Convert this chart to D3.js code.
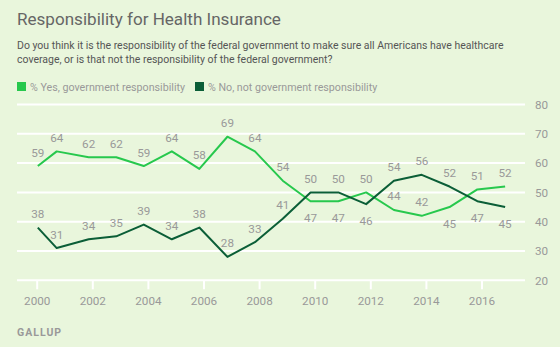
<!DOCTYPE html>
<html>
<head>
<meta charset="utf-8">
<script src="https://cdn.jsdelivr.net/npm/d3@7"></script>
<style>
  html, body { margin: 0; padding: 0; background: #e9f6dc; }
  svg { display: block; }
  text { font-family: Roboto, "Noto Sans", sans-serif; }
</style>
</head>
<body>
<svg id="chart" width="560" height="347"></svg>
<script>
// Survey dates (decimal years) and shares of respondents
const surveyDates = [2000.04, 2000.72, 2001.87, 2002.86, 2003.85, 2004.86, 2005.85, 2006.86, 2007.85,
                     2008.85, 2009.85, 2010.85, 2011.85, 2012.85, 2013.85, 2014.85, 2015.85, 2016.85];
const yesValues = [59, 64, 62, 62, 59, 64, 58, 69, 64, 54, 47, 47, 50, 44, 42, 45, 51, 52];
const noValues  = [38, 31, 34, 35, 39, 34, 38, 28, 33, 41, 50, 50, 46, 54, 56, 52, 47, 45];
const seriesNames = ["% Yes, government responsibility", "% No, not government responsibility"];
const xTickYears = [2000, 2002, 2004, 2006, 2008, 2010, 2012, 2014, 2016];
const yTickValues = [20, 30, 40, 50, 60, 70, 80];

const colors = { yes: "#27c84d", no: "#0b5e37" };
const svg = d3.select("#chart");

const x = d3.scaleLinear().domain([2000, 2016]).range([36.7, 481.5]);
const y = d3.scaleLinear().domain([20, 80]).range([280.3, 104.5]);
const gridLeft = 17, gridRight = 525;
const numberSize = 11.7;

// Size a text so that it spans the given width
function fitWidth(sel, width) {
  const node = sel.node();
  const fs = parseFloat(sel.attr("font-size"));
  const w = node.getComputedTextLength();
  if (w > 0) sel.attr("font-size", (fs * width / w).toFixed(2));
  return sel;
}

// Title and question wording
svg.append("text").attr("x", 17).attr("y", 25)
  .attr("font-size", 18).attr("fill", "#666").text("Responsibility for Health Insurance")
  .call(fitWidth, 264);
const question = [
  "Do you think it is the responsibility of the federal government to make sure all Americans have healthcare",
  "coverage, or is that not the responsibility of the federal government?"
];
const q = svg.append("text").attr("x", 17).attr("y", 49).attr("font-size", 11.2).attr("fill", "#555");
q.selectAll("tspan").data(question).join("tspan")
  .attr("x", 17).attr("dy", (d, i) => i ? 14 : 0).text(d => d);
{
  const w = q.select("tspan").node().getComputedTextLength();
  q.attr("font-size", (11.2 * 486 / w).toFixed(2));
}

// Legend
const legend = [
  { name: seriesNames[0], color: colors.yes, x: 17, w: 155 },
  { name: seriesNames[1], color: colors.no, x: 195, w: 169 }
];
const lg = svg.append("g").selectAll("g").data(legend).join("g")
  .attr("transform", d => `translate(${d.x},82)`);
lg.append("rect").attr("width", 9).attr("height", 9).attr("fill", d => d.color);
lg.append("text").attr("x", 13).attr("y", 8.5).attr("font-size", 11.2).attr("fill", "#999")
  .text(d => d.name)
  .each(function (d) { fitWidth(d3.select(this), d.w); });

// Gridlines and right-hand value axis
const grid = svg.append("g");
grid.selectAll("line").data(yTickValues).join("line")
  .attr("x1", gridLeft).attr("x2", gridRight)
  .attr("y1", d => y(d)).attr("y2", d => y(d))
  .attr("stroke", "#fff").attr("stroke-width", 2);

const yAxis = svg.append("g").attr("transform", `translate(${gridRight},0)`)
  .call(d3.axisRight(y).tickValues(yTickValues).tickSize(0).tickPadding(10));
yAxis.select(".domain").remove();
yAxis.selectAll("text").attr("font-size", numberSize).attr("fill", "#999")
  .attr("font-family", "Roboto, sans-serif");

// Year axis
const xAxis = svg.append("g").attr("transform", `translate(0,${y(20)})`)
  .call(d3.axisBottom(x).tickValues(xTickYears).tickFormat(d3.format("d")).tickSize(9).tickPadding(7));
xAxis.select(".domain").remove();
xAxis.selectAll("line").attr("stroke", "#fff").attr("stroke-width", 2);
xAxis.selectAll("text").attr("font-size", numberSize).attr("fill", "#999")
  .attr("font-family", "Roboto, sans-serif");

// Lines
const rows = surveyDates.map((t, i) => ({ t, yes: yesValues[i], no: noValues[i] }));
const line = key => d3.line().x(d => x(d.t)).y(d => y(d[key]));
svg.append("path").datum(rows).attr("d", line("yes"))
  .attr("fill", "none").attr("stroke", colors.yes).attr("stroke-width", 2).attr("stroke-linejoin", "round");
svg.append("path").datum(rows).attr("d", line("no"))
  .attr("fill", "none").attr("stroke", colors.no).attr("stroke-width", 2).attr("stroke-linejoin", "round");

// Value labels: above the point, unless the two series are close and this one is lower
function labelY(v, other) {
  const below = Math.abs(v - other) < 10 && v < other;
  return below ? y(v) + 20.5 : y(v) - 9.5;
}
const labels = svg.append("g").attr("font-size", numberSize).attr("fill", "#999").attr("text-anchor", "middle");
labels.selectAll("text.yes").data(rows).join("text").attr("class", "yes")
  .attr("x", d => x(d.t)).attr("y", d => labelY(d.yes, d.no)).text(d => d.yes);
labels.selectAll("text.no").data(rows).join("text").attr("class", "no")
  .attr("x", d => x(d.t)).attr("y", d => labelY(d.no, d.yes)).text(d => d.no);

// Source
svg.append("text").attr("x", 17).attr("y", 336).attr("font-size", 10.5).attr("font-weight", "bold")
  .attr("letter-spacing", 1).attr("fill", "#999").text("GALLUP");
</script>
</body>
</html>
